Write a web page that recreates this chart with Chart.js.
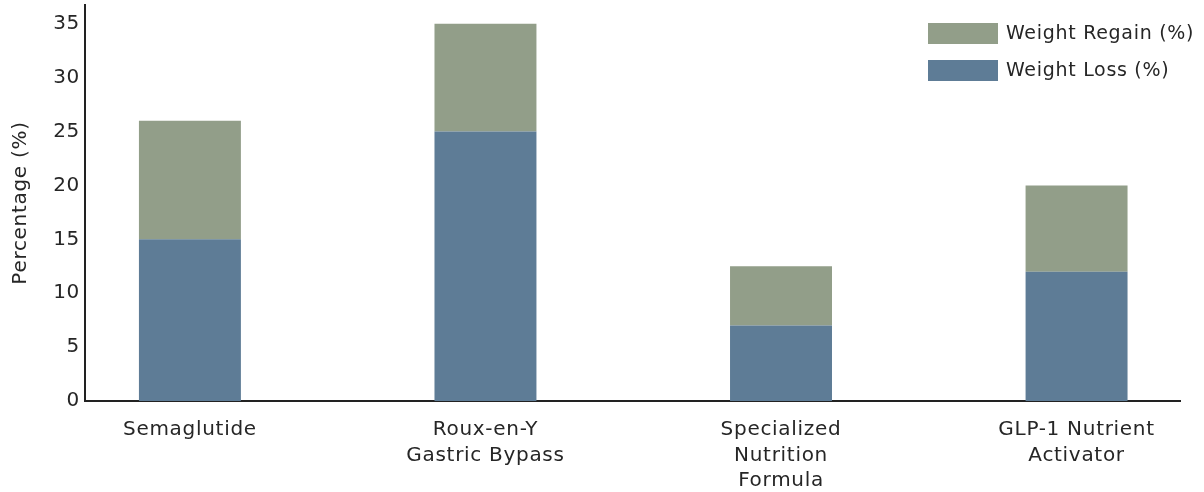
<!DOCTYPE html>
<html>
<head>
<meta charset="utf-8">
<script src="https://cdn.jsdelivr.net/npm/chart.js@4.4.1/dist/chart.umd.min.js"></script>
<style>
  html, body { margin: 0; padding: 0; background: #ffffff; }
  #wrap { width: 1204px; height: 492px; position: relative; }
</style>
</head>
<body>
<div id="wrap"><canvas id="chart" width="1204" height="492"></canvas></div>
<script>
// Categories (multi-line labels) and the two stacked series
const categories = [
  ["Semaglutide"],
  ["Roux-en-Y", "Gastric Bypass"],
  ["Specialized", "Nutrition", "Formula"],
  ["GLP-1 Nutrient", "Activator"]
];
const weightLoss   = [15, 25, 7, 12];
const weightRegain = [11, 10, 5.5, 8];
const yTickValues  = [0, 5, 10, 15, 20, 25, 30, 35];
const seriesLabels = ["Weight Loss (%)", "Weight Regain (%)"];
const yAxisTitle   = "Percentage (%)";

const FONT = "'DejaVu Sans', 'Open Sans', sans-serif";
const FONT_SIZE = 20;
const LETTER_SPACING = "0.7px";
const TEXT = "#262626";
const AXIS = "#222222";
const COLORS = { loss: "#5e7c96", regain: "#929e89" };

const toPoints = vals => vals.map((v, i) => ({ x: i, y: v }));

// Slightly open tracking for every label drawn on the canvas
const tracking = {
  id: "tracking",
  beforeDraw(chart) { chart.ctx.letterSpacing = LETTER_SPACING; }
};

// Vertical legend in the upper-right corner, top entry = top of the stack
const cornerLegend = {
  id: "cornerLegend",
  afterDraw(chart, args, opts) {
    const ctx = chart.ctx;
    const items = chart.data.datasets.slice().reverse();
    ctx.save();
    ctx.letterSpacing = LETTER_SPACING;
    ctx.font = opts.fontSize + "px " + FONT;
    ctx.textBaseline = "middle";
    ctx.textAlign = "left";
    items.forEach((ds, k) => {
      const y = opts.top + k * opts.step;
      ctx.fillStyle = ds.backgroundColor;
      ctx.fillRect(opts.left, y, opts.boxWidth, opts.boxHeight);
      ctx.fillStyle = TEXT;
      ctx.fillText(ds.label, opts.left + opts.boxWidth + opts.gap, y + opts.boxHeight / 2 + 1);
    });
    ctx.restore();
  }
};

new Chart(document.getElementById("chart"), {
  type: "bar",
  data: {
    datasets: [
      { label: seriesLabels[0], data: toPoints(weightLoss),   backgroundColor: COLORS.loss,   borderWidth: 0 },
      { label: seriesLabels[1], data: toPoints(weightRegain), backgroundColor: COLORS.regain, borderWidth: 0 }
    ]
  },
  plugins: [tracking, cornerLegend],
  options: {
    responsive: false,
    animation: false,
    devicePixelRatio: 1,
    categoryPercentage: 1,
    barPercentage: 0.345,
    layout: { padding: { top: 5, right: 24, left: 0, bottom: 0 } },
    plugins: {
      legend: { display: false },
      tooltip: { enabled: false },
      cornerLegend: { left: 928, top: 23, boxWidth: 70, boxHeight: 21, step: 37, gap: 8, fontSize: FONT_SIZE - 1 }
    },
    scales: {
      x: {
        type: "linear",
        stacked: true,
        offset: false,
        min: -0.355,
        max: 3.35,
        afterFit(s) { s.height = 91; s.paddingLeft = 0; s.paddingRight = 0; },
        afterBuildTicks(s) { s.ticks = categories.map((_, i) => ({ value: i })); },
        grid: { display: false, drawTicks: false },
        border: { display: true, color: AXIS, width: 2 },
        ticks: {
          autoSkip: false,
          maxRotation: 0,
          padding: 16,
          color: TEXT,
          font: { family: FONT, size: FONT_SIZE, lineHeight: 1.28 },
          callback: (v, i) => categories[i]
        }
      },
      y: {
        stacked: true,
        min: 0,
        max: 36.75,
        afterFit(s) { s.width = 85; s.paddingTop = 0; s.paddingBottom = 0; },
        afterBuildTicks(s) { s.ticks = yTickValues.map(v => ({ value: v })); },
        grid: { display: false, drawTicks: false },
        border: { display: true, color: AXIS, width: 2 },
        ticks: {
          padding: 5,
          color: TEXT,
          font: { family: FONT, size: FONT_SIZE }
        },
        title: {
          display: true,
          text: yAxisTitle,
          color: TEXT,
          padding: { top: 9, bottom: 0 },
          font: { family: FONT, size: FONT_SIZE }
        }
      }
    }
  }
});
</script>
</body>
</html>
